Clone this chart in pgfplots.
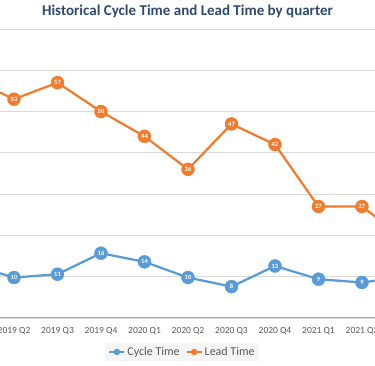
\documentclass[border=0pt]{standalone}
\usepackage{pgfplots}
\pgfplotsset{compat=1.18}
\usepackage{fontspec}
\setmainfont{Carlito}
\definecolor{cyc}{HTML}{5B9BD5}
\definecolor{lead}{HTML}{ED7D31}
\definecolor{titlec}{HTML}{2E4A6E}
\definecolor{txt}{HTML}{595959}
\definecolor{gridc}{HTML}{D9D9D9}
\definecolor{axisc}{HTML}{A6A6A6}
\begin{document}
\begin{tikzpicture}
\begin{axis}[
  at={(0pt,0pt)}, anchor=south west,
  scale only axis, width=375pt, height=289pt,
  xmin=0.678, xmax=9.299, ymin=0, ymax=70,
  clip=true, clip marker paths=true, clip bounding box=upper bound,
  ytick={0,10,...,70}, yticklabels={},
  ymajorgrids, grid style={draw=gridc, line width=0.75pt},
  xtick={1,...,9},
  xticklabels={2019 Q2,2019 Q3,2019 Q4,2020 Q1,2020 Q2,2020 Q3,2020 Q4,2021 Q1,2021 Q2},
  xticklabel style={font=\fontsize{9.5}{10}\selectfont, text=txt, yshift=-6pt},
  major tick length=0pt,
  axis x line*=bottom, axis y line*=left,
  x axis line style={-, draw=axisc, line width=1pt},
  y axis line style={draw=none},
  /pgf/number format/assume math mode=true,
  title={Historical Cycle Time and Lead Time by quarter},
  title style={font=\fontsize{15}{17}\bfseries\selectfont, text=titlec, at={(0.5,1)}, anchor=center, yshift=11.5pt},
  legend style={at={(0.4867,-0.1176)}, anchor=center, legend columns=2, draw=none, fill=black!4,
    font=\fontsize{12}{14}\selectfont, text=txt, inner sep=2pt,
    /tikz/every even column/.append style={column sep=4pt}},
  legend image code/.code={\draw[#1, line width=2pt] (0pt,0pt) -- (15pt,0pt); \fill[#1] (7.5pt,0pt) circle (3pt);},
  mkplot/.style={only marks, mark=*, mark size=6.5pt, mark options={solid, fill=#1, draw=#1},
    nodes near coords={\pgfmathprintnumber[fixed,precision=0]{\pgfplotspointmeta}},
    nodes near coords align={center},
    every node near coord/.append style={font=\fontsize{6.5}{7}\bfseries\selectfont, text=white, inner sep=0pt}},
]
% Cycle Time
\addplot[cyc, line width=2.25pt, no marks, forget plot] coordinates {
 (0,13) (1,9.8) (2,10.6) (3,15.7) (4,13.6) (5,9.8) (6,7.6) (7,12.6) (8,9.4) (9,8.6) (10,10)
};
\addplot[cyc, mkplot=cyc] coordinates {
 (1,9.8) (2,10.6) (3,15.7) (4,13.6) (5,9.8) (6,7.6) (7,12.6) (8,9.4) (9,8.6)
};
\addlegendentry{Cycle Time}
% Lead Time
\addplot[lead, line width=2.25pt, no marks, forget plot] coordinates {
 (0,58) (1,53) (2,57) (3,50) (4,44) (5,36) (6,47) (7,42) (8,27) (9,27) (10,19)
};
\addplot[lead, mkplot=lead] coordinates {
 (1,53) (2,57) (3,50) (4,44) (5,36) (6,47) (7,42) (8,27) (9,27)
};
\addlegendentry{Lead Time}
\end{axis}
\pgfresetboundingbox
\useasboundingbox (0pt,-48pt) rectangle (375pt,318pt);
\end{tikzpicture}
\end{document}
